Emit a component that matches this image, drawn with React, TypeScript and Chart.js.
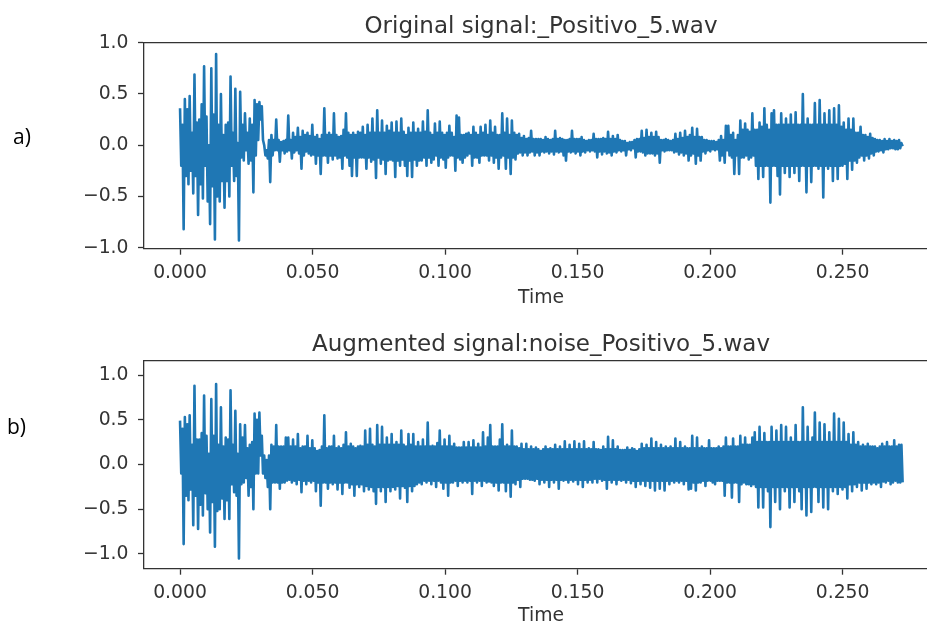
import React, { useEffect, useRef } from "react";
import { Chart, registerables } from "chart.js";

Chart.register(...registerables);

// Length of the clip in seconds; the min/max windows are evenly spaced over it.
const DURATION = 0.2722;

// Clean recording: highest and lowest amplitude in each display window.
const ORIGINAL_MAX = [
  0.36, 0.2, 0.45, 0.35, 0.48, 0.12, 0.69, 0.22, 0.25, 0.4,
  0.77, 0.28, 0.0, 0.75, 0.3, 0.89, 0.2, 0.5, 0.1, 0.2,
  0.22, 0.67, 0.12, 0.55, 0.02, 0.52, 0.2, 0.31, 0.12, 0.26,
  0.2, 0.44, 0.4, 0.42, 0.38, 0.0, -0.05, 0.05, 0.1, 0.05,
  0.25, 0.05, 0.03, 0.04, 0.05, 0.29, 0.05, 0.12, 0.08, 0.17,
  0.08, 0.14, 0.1, 0.12, 0.09, 0.2, 0.08, 0.1, 0.06, 0.1,
  0.36, 0.1, 0.12, 0.1, 0.31, 0.1, 0.08, 0.09, 0.15, 0.31,
  0.12, 0.1, 0.12, 0.1, 0.13, 0.12, 0.18, 0.1, 0.2, 0.12,
  0.26, 0.12, 0.34, 0.12, 0.24, 0.12, 0.19, 0.14, 0.22, 0.12,
  0.23, 0.12, 0.26, 0.13, 0.1, 0.17, 0.12, 0.22, 0.12, 0.16,
  0.12, 0.23, 0.13, 0.34, 0.12, 0.1, 0.21, 0.12, 0.23, 0.12,
  0.1, 0.12, 0.19, 0.12, 0.08, 0.29, 0.27, 0.1, 0.1, 0.11,
  0.12, 0.1, 0.18, 0.12, 0.1, 0.18, 0.12, 0.2, 0.1, 0.24,
  0.12, 0.18, 0.1, 0.1, 0.31, 0.12, 0.26, 0.1, 0.24, 0.12,
  0.1, 0.11, 0.07, 0.09, 0.06, 0.07, 0.14, 0.06, 0.06, 0.06,
  0.06, 0.05, 0.08, 0.06, 0.05, 0.06, 0.14, 0.06, 0.07, 0.06,
  0.05, 0.05, 0.06, 0.14, 0.06, 0.06, 0.06, 0.08, 0.05, 0.04,
  0.05, 0.05, 0.11, 0.06, 0.06, 0.06, 0.07, 0.06, 0.13, 0.06,
  0.09, 0.06, 0.1, 0.05, 0.04, 0.04, 0.02, 0.03, 0.03, 0.05,
  0.06, 0.06, 0.14, 0.07, 0.15, 0.08, 0.12, 0.08, 0.13, 0.08,
  0.05, 0.05, 0.06, 0.05, 0.04, 0.05, 0.11, 0.06, 0.12, 0.07,
  0.14, 0.08, 0.1, 0.17, 0.08, 0.16, 0.08, 0.08, 0.05, 0.05,
  0.04, 0.04, 0.04, 0.03, 0.05, 0.09, 0.05, 0.19, 0.19, 0.1,
  0.12, 0.05, 0.1, 0.24, 0.15, 0.21, 0.15, 0.13, 0.31, 0.15,
  0.15, 0.22, 0.18, 0.36, 0.2, 0.15, 0.31, 0.34, 0.2, 0.2,
  0.31, 0.2, 0.26, 0.2, 0.3, 0.2, 0.32, 0.2, 0.2, 0.5,
  0.2, 0.26, 0.2, 0.2, 0.41, 0.2, 0.44, 0.2, 0.31, 0.2,
  0.34, 0.2, 0.36, 0.2, 0.39, 0.18, 0.22, 0.15, 0.26, 0.15,
  0.26, 0.12, 0.12, 0.18, 0.1, 0.1, 0.08, 0.11, 0.07, 0.06,
  0.05, 0.05, 0.04, 0.06, 0.04, 0.06, 0.04, 0.05, 0.04, 0.05,
  0.02,
];
const ORIGINAL_MIN = [
  -0.2, -0.82, -0.3, -0.38, -0.25, -0.47, -0.3, -0.68, -0.38, -0.52,
  -0.2, -0.55, -0.77, -0.4, -0.92, -0.5, -0.55, -0.35, -0.61, -0.35,
  -0.5, -0.2, -0.35, -0.3, -0.93, -0.12, -0.15, -0.05, -0.18, -0.15,
  -0.46, -0.1, 0.05, 0.25, 0.05, -0.1, -0.13, -0.36, -0.1, -0.05,
  -0.05, -0.16, -0.05, -0.08, -0.06, -0.05, -0.13, -0.07, -0.05, -0.08,
  -0.23, -0.1, -0.06, -0.08, -0.1, -0.09, -0.18, -0.1, -0.28, -0.1,
  -0.1, -0.17, -0.1, -0.14, -0.1, -0.13, -0.12, -0.23, -0.1, -0.12,
  -0.2, -0.3, -0.12, -0.3, -0.12, -0.12, -0.12, -0.23, -0.12, -0.16,
  -0.14, -0.32, -0.12, -0.18, -0.14, -0.28, -0.15, -0.14, -0.15, -0.31,
  -0.15, -0.2, -0.14, -0.2, -0.3, -0.15, -0.31, -0.14, -0.2, -0.15,
  -0.15, -0.12, -0.2, -0.12, -0.17, -0.14, -0.1, -0.2, -0.12, -0.14,
  -0.22, -0.12, -0.1, -0.1, -0.25, -0.12, -0.14, -0.17, -0.12, -0.1,
  -0.08, -0.2, -0.12, -0.12, -0.17, -0.1, -0.1, -0.1, -0.15, -0.1,
  -0.17, -0.12, -0.23, -0.12, -0.1, -0.23, -0.12, -0.28, -0.12, -0.14,
  -0.08, -0.07, -0.1, -0.07, -0.1, -0.07, -0.06, -0.1, -0.07, -0.1,
  -0.06, -0.07, -0.06, -0.08, -0.06, -0.09, -0.06, -0.07, -0.06, -0.1,
  -0.15, -0.06, -0.07, -0.06, -0.08, -0.06, -0.1, -0.06, -0.07, -0.05,
  -0.06, -0.05, -0.06, -0.12, -0.06, -0.09, -0.06, -0.08, -0.07, -0.1,
  -0.06, -0.07, -0.05, -0.06, -0.05, -0.1, -0.04, -0.05, -0.03, -0.12,
  -0.06, -0.06, -0.07, -0.1, -0.08, -0.08, -0.08, -0.1, -0.08, -0.17,
  -0.05, -0.06, -0.05, -0.05, -0.05, -0.07, -0.06, -0.09, -0.07, -0.1,
  -0.08, -0.15, -0.1, -0.08, -0.18, -0.1, -0.15, -0.06, -0.08, -0.05,
  -0.06, -0.04, -0.05, -0.04, -0.15, -0.1, -0.17, -0.05, -0.1, -0.12,
  -0.28, -0.1, -0.28, -0.12, -0.12, -0.1, -0.14, -0.12, -0.1, -0.2,
  -0.33, -0.2, -0.31, -0.2, -0.2, -0.56, -0.2, -0.2, -0.3, -0.48,
  -0.2, -0.27, -0.2, -0.31, -0.2, -0.27, -0.2, -0.35, -0.2, -0.2,
  -0.46, -0.2, -0.36, -0.2, -0.2, -0.23, -0.2, -0.51, -0.2, -0.23,
  -0.2, -0.35, -0.2, -0.33, -0.2, -0.2, -0.18, -0.33, -0.15, -0.24,
  -0.15, -0.17, -0.12, -0.1, -0.15, -0.1, -0.13, -0.08, -0.1, -0.06,
  -0.06, -0.05, -0.07, -0.04, -0.04, -0.03, -0.03, -0.04, -0.04, -0.03,
  -0.01,
];

// Noise-augmented recording: highest and lowest amplitude in each display window.
const AUGMENTED_MAX = [
  0.49, 0.4, 0.53, 0.45, 0.55, 0.22, 0.88, 0.28, 0.28, 0.35,
  0.77, 0.32, 0.12, 0.73, 0.32, 0.9, 0.22, 0.64, 0.2, 0.3,
  0.28, 0.83, 0.22, 0.6, 0.12, 0.45, 0.3, 0.44, 0.18, 0.22,
  0.25, 0.57, 0.5, 0.58, 0.32, 0.1, 0.05, 0.1, 0.22, 0.2,
  0.44, 0.2, 0.2, 0.2, 0.3, 0.3, 0.2, 0.28, 0.2, 0.34,
  0.18, 0.2, 0.2, 0.32, 0.18, 0.27, 0.18, 0.15, 0.16, 0.2,
  0.55, 0.18, 0.2, 0.2, 0.32, 0.18, 0.2, 0.18, 0.22, 0.36,
  0.2, 0.23, 0.2, 0.18, 0.2, 0.21, 0.2, 0.38, 0.22, 0.4,
  0.22, 0.2, 0.44, 0.22, 0.42, 0.22, 0.3, 0.22, 0.34, 0.22,
  0.25, 0.22, 0.38, 0.22, 0.2, 0.34, 0.22, 0.34, 0.2, 0.25,
  0.2, 0.28, 0.2, 0.47, 0.2, 0.21, 0.2, 0.24, 0.38, 0.2,
  0.28, 0.2, 0.32, 0.2, 0.23, 0.19, 0.19, 0.19, 0.25, 0.19,
  0.25, 0.19, 0.27, 0.19, 0.23, 0.19, 0.36, 0.2, 0.3, 0.44,
  0.2, 0.2, 0.2, 0.28, 0.45, 0.2, 0.22, 0.2, 0.38, 0.2,
  0.2, 0.18, 0.23, 0.17, 0.23, 0.17, 0.2, 0.17, 0.19, 0.17,
  0.15, 0.17, 0.2, 0.17, 0.18, 0.17, 0.22, 0.17, 0.2, 0.17,
  0.26, 0.17, 0.22, 0.17, 0.26, 0.17, 0.23, 0.17, 0.26, 0.17,
  0.18, 0.17, 0.25, 0.17, 0.17, 0.16, 0.2, 0.17, 0.31, 0.17,
  0.27, 0.17, 0.2, 0.16, 0.16, 0.16, 0.19, 0.16, 0.18, 0.17,
  0.15, 0.17, 0.23, 0.18, 0.22, 0.18, 0.29, 0.18, 0.25, 0.18,
  0.22, 0.18, 0.2, 0.18, 0.2, 0.18, 0.29, 0.18, 0.25, 0.18,
  0.2, 0.18, 0.18, 0.32, 0.18, 0.3, 0.18, 0.2, 0.18, 0.18,
  0.27, 0.18, 0.18, 0.18, 0.2, 0.18, 0.2, 0.3, 0.2, 0.2,
  0.29, 0.2, 0.2, 0.32, 0.22, 0.3, 0.22, 0.22, 0.3, 0.36,
  0.25, 0.42, 0.25, 0.35, 0.25, 0.25, 0.42, 0.25, 0.38, 0.25,
  0.44, 0.25, 0.42, 0.25, 0.3, 0.25, 0.44, 0.25, 0.25, 0.64,
  0.25, 0.42, 0.25, 0.3, 0.58, 0.25, 0.47, 0.25, 0.45, 0.25,
  0.36, 0.25, 0.57, 0.25, 0.51, 0.25, 0.47, 0.25, 0.34, 0.22,
  0.36, 0.22, 0.25, 0.2, 0.22, 0.2, 0.23, 0.2, 0.2, 0.2,
  0.18, 0.2, 0.23, 0.2, 0.25, 0.2, 0.2, 0.27, 0.2, 0.22,
  0.22,
];
const AUGMENTED_MIN = [
  -0.1, -0.89, -0.35, -0.4, -0.28, -0.68, -0.35, -0.72, -0.45, -0.57,
  -0.32, -0.5, -0.76, -0.42, -0.92, -0.52, -0.5, -0.38, -0.61, -0.4,
  -0.61, -0.22, -0.31, -0.35, -1.05, -0.22, -0.2, -0.15, -0.35, -0.25,
  -0.5, -0.1, -0.1, 0.1, -0.1, -0.15, -0.25, -0.5, -0.2, -0.2,
  -0.2, -0.27, -0.2, -0.2, -0.18, -0.17, -0.2, -0.18, -0.22, -0.17,
  -0.31, -0.18, -0.22, -0.18, -0.2, -0.18, -0.3, -0.2, -0.46, -0.2,
  -0.2, -0.27, -0.2, -0.22, -0.2, -0.28, -0.2, -0.33, -0.2, -0.2,
  -0.26, -0.22, -0.35, -0.22, -0.25, -0.22, -0.3, -0.24, -0.28, -0.25,
  -0.3, -0.44, -0.25, -0.3, -0.25, -0.42, -0.25, -0.3, -0.25, -0.28,
  -0.24, -0.38, -0.24, -0.26, -0.42, -0.24, -0.3, -0.24, -0.22, -0.2,
  -0.22, -0.18, -0.2, -0.18, -0.22, -0.18, -0.25, -0.18, -0.2, -0.27,
  -0.2, -0.35, -0.2, -0.2, -0.18, -0.24, -0.18, -0.2, -0.18, -0.2,
  -0.18, -0.33, -0.18, -0.2, -0.18, -0.24, -0.18, -0.2, -0.19, -0.2,
  -0.24, -0.2, -0.29, -0.2, -0.2, -0.3, -0.2, -0.36, -0.2, -0.22,
  -0.17, -0.25, -0.16, -0.16, -0.16, -0.17, -0.17, -0.18, -0.16, -0.22,
  -0.17, -0.2, -0.17, -0.25, -0.17, -0.2, -0.17, -0.27, -0.17, -0.18,
  -0.17, -0.2, -0.17, -0.19, -0.17, -0.22, -0.17, -0.25, -0.17, -0.2,
  -0.17, -0.2, -0.16, -0.2, -0.16, -0.18, -0.17, -0.27, -0.17, -0.2,
  -0.17, -0.22, -0.17, -0.18, -0.17, -0.2, -0.17, -0.21, -0.18, -0.25,
  -0.18, -0.22, -0.18, -0.24, -0.18, -0.26, -0.18, -0.29, -0.18, -0.27,
  -0.18, -0.29, -0.18, -0.22, -0.18, -0.2, -0.18, -0.2, -0.18, -0.22,
  -0.18, -0.28, -0.27, -0.2, -0.29, -0.2, -0.2, -0.18, -0.24, -0.18,
  -0.18, -0.2, -0.22, -0.18, -0.18, -0.18, -0.35, -0.2, -0.2, -0.37,
  -0.2, -0.2, -0.42, -0.22, -0.2, -0.22, -0.22, -0.24, -0.22, -0.25,
  -0.48, -0.25, -0.48, -0.25, -0.3, -0.7, -0.25, -0.42, -0.25, -0.5,
  -0.25, -0.3, -0.25, -0.48, -0.25, -0.42, -0.25, -0.3, -0.5, -0.25,
  -0.57, -0.25, -0.53, -0.25, -0.25, -0.42, -0.25, -0.48, -0.25, -0.5,
  -0.25, -0.3, -0.25, -0.33, -0.25, -0.28, -0.25, -0.38, -0.22, -0.3,
  -0.22, -0.25, -0.2, -0.29, -0.2, -0.27, -0.2, -0.22, -0.2, -0.22,
  -0.2, -0.25, -0.19, -0.2, -0.18, -0.22, -0.2, -0.18, -0.2, -0.2,
  -0.2,
];

const X_TICKS = [0, 0.05, 0.1, 0.15, 0.2, 0.25];
const Y_TICKS = [-1, -0.5, 0, 0.5, 1];

const TITLE_ORIGINAL = "Original signal:_Positivo_5.wav";
const TITLE_AUGMENTED = "Augmented signal:noise_Positivo_5.wav";
const X_LABEL = "Time";
const PANEL_TAGS = ["a)", "b)"];

const X_MIN = -0.0136;
const X_MAX = 0.286;

const INK = "#333333";
const LINE_BLUE = "#1f77b4";
const FAMILY = "'DejaVu Sans', sans-serif";
const TICK_FONT = { family: FAMILY, size: 18.8 };
const TITLE_SIZE = 23;

const CANVAS_W = 960;
const PLOT_LEFT = 144;
const PLOT_RIGHT = 938;

type WaveProps = {
  title: string;
  highs: number[];
  lows: number[];
  yMin: number;
  yMax: number;
  top: number;
  height: number;
  plotTop: number;
  plotBottom: number;
  labelPad: number;
};

function formatY(v: number): string {
  return v.toFixed(1).replace("-", "\u2212");
}

function WaveChart(props: WaveProps) {
  const ref = useRef<HTMLCanvasElement | null>(null);

  useEffect(() => {
    const canvas = ref.current;
    if (!canvas) return;
    const { title, highs, lows, yMin, yMax, height, plotTop, plotBottom, labelPad } = props;
    const step = DURATION / (highs.length - 1);
    // Each window contributes its peak and then its trough, like a decimated audio trace.
    const points: { x: number; y: number }[] = [];
    highs.forEach((hi, i) => {
      points.push({ x: i * step, y: hi });
      points.push({ x: i * step + step / 2, y: lows[i] });
    });

    const axisLines = {
      drawOnChartArea: false,
      drawTicks: true,
      tickLength: 6,
      tickColor: INK,
      tickWidth: 1.3,
    };
    const axisBorder = { display: true, color: INK, width: 1.3 };

    // Spines on top/right plus the panel heading above the plot box.
    const frame = {
      id: "frameAndHeading",
      afterDraw(chart: Chart) {
        const { ctx, chartArea } = chart;
        const { left, right, top, bottom } = chartArea;
        ctx.save();
        ctx.strokeStyle = INK;
        ctx.lineWidth = 1.3;
        ctx.beginPath();
        ctx.moveTo(left, top);
        ctx.lineTo(right, top);
        ctx.lineTo(right, bottom);
        ctx.stroke();
        ctx.fillStyle = INK;
        ctx.font = `${TITLE_SIZE}px ${FAMILY}`;
        ctx.textAlign = "center";
        ctx.textBaseline = "alphabetic";
        ctx.fillText(title, (left + right) / 2, top - 10);
        ctx.restore();
      },
    };

    const chart = new Chart(canvas, {
      type: "line",
      data: {
        datasets: [
          {
            data: points,
            borderColor: LINE_BLUE,
            borderWidth: 2.6,
            pointRadius: 0,
            tension: 0,
            fill: false,
            borderJoinStyle: "round",
          },
        ],
      },
      options: {
        animation: false,
        responsive: false,
        events: [],
        layout: {
          padding: { top: plotTop, left: 0, right: CANVAS_W - PLOT_RIGHT, bottom: 0 },
        },
        plugins: {
          legend: { display: false },
          tooltip: { enabled: false },
          title: { display: false },
        },
        scales: {
          x: {
            type: "linear",
            min: X_MIN,
            max: X_MAX,
            afterBuildTicks: (s: any) => {
              s.ticks = X_TICKS.map((v) => ({ value: v }));
            },
            afterFit: (s: any) => {
              s.height = height - plotBottom;
            },
            ticks: {
              callback: (v: any) => Number(v).toFixed(3),
              font: TICK_FONT,
              color: INK,
              padding: 7,
              maxRotation: 0,
              autoSkip: false,
            },
            grid: axisLines,
            border: axisBorder,
            title: {
              display: true,
              text: X_LABEL,
              font: TICK_FONT,
              color: INK,
              padding: { top: 0, bottom: labelPad },
            },
          },
          y: {
            type: "linear",
            min: yMin,
            max: yMax,
            afterBuildTicks: (s: any) => {
              s.ticks = Y_TICKS.map((v) => ({ value: v }));
            },
            afterFit: (s: any) => {
              s.width = PLOT_LEFT;
            },
            ticks: {
              callback: (v: any) => formatY(Number(v)),
              font: TICK_FONT,
              color: INK,
              padding: 9.5,
              autoSkip: false,
            },
            grid: axisLines,
            border: axisBorder,
          },
        },
      },
      plugins: [frame],
    } as any);

    return () => chart.destroy();
  }, []);

  return (
    <canvas
      ref={ref}
      width={CANVAS_W}
      height={props.height}
      style={{ position: "absolute", left: 0, top: props.top, display: "block" }}
    />
  );
}

const tagStyle: React.CSSProperties = {
  position: "absolute",
  fontFamily: "'Open Sans', 'Noto Sans', sans-serif",
  fontSize: 21,
  lineHeight: "24px",
  color: "#000",
};

export default function App() {
  return (
    <div
      style={{
        position: "absolute",
        left: 0,
        top: 0,
        width: 927,
        height: 626,
        overflow: "hidden",
        background: "#fff",
      }}
    >
      <WaveChart
        title={TITLE_ORIGINAL}
        highs={ORIGINAL_MAX}
        lows={ORIGINAL_MIN}
        yMin={-1.01}
        yMax={1.0}
        top={0}
        height={316}
        plotTop={42.7}
        plotBottom={248.7}
        labelPad={6.9}
      />
      <WaveChart
        title={TITLE_AUGMENTED}
        highs={AUGMENTED_MAX}
        lows={AUGMENTED_MIN}
        yMin={-1.165}
        yMax={1.16}
        top={316}
        height={312}
        plotTop={44.7}
        plotBottom={252.7}
        labelPad={0.9}
      />
      <div style={{ ...tagStyle, left: 13, top: 124 }}>{PANEL_TAGS[0]}</div>
      <div style={{ ...tagStyle, left: 7, top: 414 }}>{PANEL_TAGS[1]}</div>
    </div>
  );
}
